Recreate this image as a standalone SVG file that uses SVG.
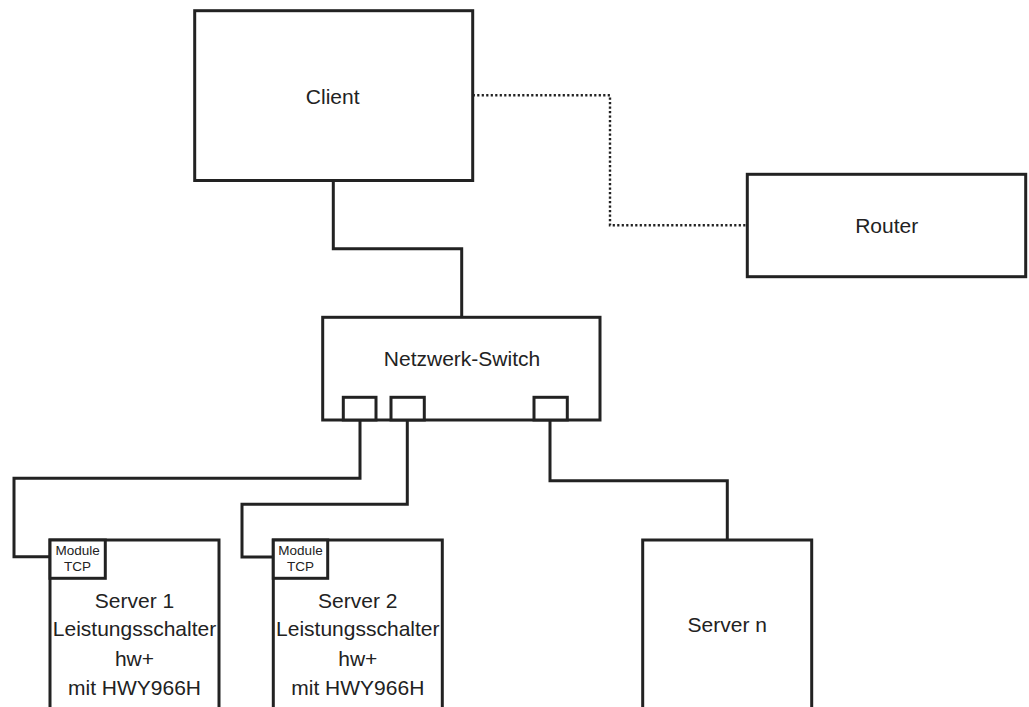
<svg xmlns="http://www.w3.org/2000/svg" width="1029" height="707" viewBox="0 0 1029 707">
<style>
.box{fill:#fff;stroke:#222;stroke-width:3}
.port{fill:#fff;stroke:#222;stroke-width:3}
.wire{fill:none;stroke:#222;stroke-width:3}
.dot{fill:none;stroke:#222;stroke-width:2.4;stroke-dasharray:2.2 2.3}
.t{font-family:"Liberation Sans",Arial,sans-serif;font-size:21px;fill:#222;text-anchor:middle}
.s{font-family:"Liberation Sans",Arial,sans-serif;font-size:13.5px;fill:#222;text-anchor:middle}
</style>
<rect width="1029" height="707" fill="#fff"/>
<g id="connectors">
<path class="wire" d="M333.3 180.7 V248.7 H461.7 V317.3"/>
<path class="wire" d="M360 420 V478.3 H14 V556.7 H50"/>
<path class="wire" d="M407.3 420 V504.3 H242 V557 H273.3"/>
<path class="wire" d="M550 420 V480.7 H727.3 V540"/>
<path class="dot" d="M472.7 95.3 H610 V225.3 H747.3"/>
</g>
<g id="client">
<rect class="box" x="194.7" y="10.7" width="278" height="169.8"/>
<text class="t" x="332.7" y="104">Client</text>
</g>
<g id="router">
<rect class="box" x="747.3" y="174.3" width="278.4" height="102.4"/>
<text class="t" x="886.7" y="233.3">Router</text>
</g>
<g id="switch">
<rect class="box" x="322.7" y="317.3" width="277.3" height="102.7"/>
<text class="t" x="462" y="365.7">Netzwerk-Switch</text>
<rect class="port" x="343.3" y="397.3" width="32.7" height="22.7"/>
<rect class="port" x="391" y="397.3" width="33.3" height="22.7"/>
<rect class="port" x="534" y="397.3" width="33.3" height="22.7"/>
</g>
<g id="server1">
<rect class="box" x="50" y="540" width="169" height="190"/>
<rect class="box" x="50" y="540" width="55.3" height="38.3"/>
<text class="s" x="77.6" y="555">Module</text>
<text class="s" x="77.6" y="571">TCP</text>
<text class="t" x="134.5" y="607.7">Server 1</text>
<text class="t" x="134.5" y="636">Leistungsschalter</text>
<text class="t" x="134.5" y="665.7">hw+</text>
<text class="t" x="134.5" y="695">mit HWY966H</text>
</g>
<g id="server2">
<rect class="box" x="273.3" y="540" width="169" height="190"/>
<rect class="box" x="273.3" y="540" width="54.4" height="38.3"/>
<text class="s" x="300.5" y="555">Module</text>
<text class="s" x="300.5" y="571">TCP</text>
<text class="t" x="357.8" y="607.7">Server 2</text>
<text class="t" x="357.8" y="636">Leistungsschalter</text>
<text class="t" x="357.8" y="665.7">hw+</text>
<text class="t" x="357.8" y="695">mit HWY966H</text>
</g>
<g id="servern">
<rect class="box" x="642.7" y="540" width="169" height="190"/>
<text class="t" x="727.3" y="632.3">Server n</text>
</g>
</svg>
